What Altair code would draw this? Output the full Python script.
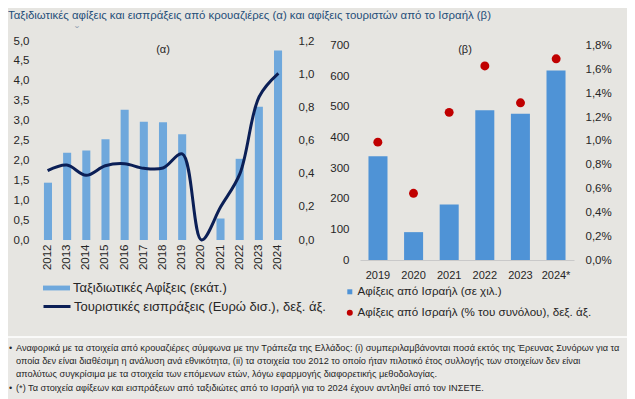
import altair as alt
import pandas as pd

# ---------------- data ----------------
years_a = ["2012", "2013", "2014", "2015", "2016", "2017", "2018",
           "2019", "2020", "2021", "2022", "2023", "2024"]
arrivals_a = [1.44, 2.19, 2.25, 2.53, 3.27, 2.97, 2.96, 2.66, 0.0, 0.54, 2.04, 3.35, 4.76]
receipts_a = [0.418, 0.452, 0.39, 0.448, 0.46, 0.432, 0.434, 0.519, 0.0, 0.20, 0.40, 0.864, 1.005]

years_b = ["2019", "2020", "2021", "2022", "2023", "2024*"]
israel_k = [339, 91, 181, 489, 478, 619]
israel_pct = [0.99, 0.56, 1.24, 1.63, 1.32, 1.69]

ticks_a_left = [0, 0.5, 1, 1.5, 2, 2.5, 3, 3.5, 4, 4.5, 5]
ticks_a_right = [0, 0.2, 0.4, 0.6, 0.8, 1.0, 1.2]
ticks_b_left = [0, 100, 200, 300, 400, 500, 600, 700]
ticks_b_right = [0, 0.2, 0.4, 0.6, 0.8, 1.0, 1.2, 1.4, 1.6, 1.8]

lbl_bar_a = "Ταξιδιωτικές Αφίξεις (εκάτ.)"
lbl_line_a = "Τουριστικές εισπράξεις (Ευρώ δισ.), δεξ. άξ."
lbl_bar_b = "Αφίξεις από Ισραήλ (σε χιλ.)"
lbl_dot_b = "Αφίξεις από Ισραήλ (% του συνόλου), δεξ. άξ."

title_text = "Ταξιδιωτικές αφίξεις και εισπράξεις από κρουαζιέρες (α) και αφίξεις τουριστών από το Ισραήλ (β)"
notes_block = [
    "Αναφορικά με τα στοιχεία από κρουαζιέρες σύμφωνα με την Τράπεζα της Ελλάδος: (i) συμπεριλαμβάνονται ποσά εκτός της Έρευνας Συνόρων για τα",
    "οποία δεν είναι διαθέσιμη η ανάλυση ανά εθνικότητα, (ii) τα στοιχεία του 2012 το οποίο ήταν πιλοτικό έτος συλλογής των στοιχείων δεν είναι",
    "απολύτως συγκρίσιμα με τα στοιχεία  των επόμενων ετών, λόγω εφαρμογής διαφορετικής μεθοδολογίας.",
]
note_last = "(*) Τα στοιχεία αφίξεων και εισπράξεων από ταξιδιώτες από το Ισραήλ για το 2024 έχουν αντληθεί από τον ΙΝΣΕΤΕ."

# ---------------- styles / layout ----------------
W, H = 619, 391
BG = "#e6e5e1"
FONT = "Liberation Sans"
TXT = "#262626"
C_BAR_A = "#6fa8dc"
C_LINE_A = "#0b1f56"
C_BAR_B = "#4f93d6"
C_DOT_B = "#c00000"

# panel (a) plot box (chart px)
AX0, AX1, AY0, AY1 = 30, 280, 232, 33
# panel (b) plot box
BX0, BX1, BY0, BY1 = 352, 566, 252, 37.7

comma1 = "replace(format(datum.value, '.1f'), '.', ',')"
comma_pct = "replace(format(datum.value, '.1f'), '.', ',') + '%'"


def yaxis(values, expr, orient, offset, pad):
    return alt.Axis(title=None, values=values, labelExpr=expr, orient=orient,
                    offset=offset, ticks=False, domain=False, grid=False,
                    labelPadding=pad, labelFont=FONT, labelFontSize=11.5,
                    labelColor=TXT)


def legend(x, y, shape, size, fs, **kw):
    return alt.Legend(title=None, orient="none", legendX=x, legendY=y,
                      symbolType=shape, symbolSize=size, padding=0, labelOffset=2,
                      labelFont=FONT, labelFontSize=fs, labelColor=TXT,
                      labelLimit=500, **kw)


df_a = pd.DataFrame({"year": years_a, "arrivals": arrivals_a, "receipts": receipts_a,
                     "s1": lbl_bar_a, "s2": lbl_line_a})
df_b = pd.DataFrame({"year": years_b, "k": israel_k, "pct": israel_pct,
                     "s3": lbl_bar_b, "s4": lbl_dot_b})

sc_xa = alt.Scale(range=[AX0, AX1], paddingInner=0.58, paddingOuter=0.31)
sc_xb = alt.Scale(range=[BX0, BX1], paddingInner=0.466, paddingOuter=0.238)

# ---------------- panel (a) ----------------
bars_a = alt.Chart(df_a).mark_bar().encode(
    x=alt.X("year:N", sort=years_a, scale=sc_xa,
            axis=alt.Axis(title=None, orient="bottom", offset=-(H - AY0), labelAngle=-90,
                          ticks=False, domain=False, labelPadding=4, labelFont=FONT,
                          labelFontSize=11.5, labelColor=TXT)),
    y=alt.Y("arrivals:Q", scale=alt.Scale(domain=[0, 5], range=[AY0, AY1]),
            axis=yaxis(ticks_a_left, comma1, "left", -AX0, 9)),
    color=alt.Color("s1:N", scale=alt.Scale(range=[C_BAR_A]),
                    legend=legend(34, 265.5, "M-1,-0.18H1V0.18H-1Z", 729, 13)),
)

line_a = alt.Chart(df_a).mark_line(interpolate="catmull-rom", strokeWidth=3).encode(
    x=alt.X("year:N", sort=years_a, scale=sc_xa, axis=None),
    y=alt.Y("receipts:Q", scale=alt.Scale(domain=[0, 1.2], range=[AY0, AY1]),
            axis=yaxis(ticks_a_right, comma1, "right", -(W - AX1), 10)),
    stroke=alt.Stroke("s2:N", scale=alt.Scale(range=[C_LINE_A]),
                      legend=legend(34, 283.5, "stroke", 729, 13, symbolStrokeWidth=3)),
)

# ---------------- panel (b) ----------------
bars_b = alt.Chart(df_b).mark_bar().encode(
    x=alt.X("year:N", sort=years_b, scale=sc_xb,
            axis=alt.Axis(title=None, orient="bottom", offset=-(H - BY0), labelAngle=0,
                          ticks=False, domain=True, domainColor="#c9c9c9",
                          labelPadding=9, labelFont=FONT, labelFontSize=11,
                          labelColor=TXT)),
    y=alt.Y("k:Q", scale=alt.Scale(domain=[0, 700], range=[BY0, BY1]),
            axis=yaxis(ticks_b_left, "format(datum.value, 'd')", "left", -BX0, 11)),
    color=alt.Color("s3:N", scale=alt.Scale(range=[C_BAR_B]),
                    legend=legend(336, 278, "square", 25, 11.6)),
)

dots_b = alt.Chart(df_b).mark_circle(size=80, opacity=1).encode(
    x=alt.X("year:N", sort=years_b, scale=sc_xb, axis=None),
    y=alt.Y("pct:Q", scale=alt.Scale(domain=[0, 1.8], range=[BY0, BY1]),
            axis=yaxis(ticks_b_right, comma_pct, "right", -(W - BX1), 11)),
    fill=alt.Fill("s4:N", scale=alt.Scale(range=[C_DOT_B]),
                  legend=legend(336, 299, "circle", 36, 11.6)),
)

# ---------------- texts ----------------
def txt(s, x, y, **kw):
    return alt.Chart(pd.DataFrame({"t": [s]})).mark_text(**kw).encode(
        text="t", x=alt.value(x), y=alt.value(y))


title_mark = txt(title_text, 0, 10.5, align="left", baseline="alphabetic", font=FONT,
                 fontSize=11.4, color="#1f4e79")
caret = txt("ˇ", 69, 24, font=FONT, fontSize=12, color="#9aa5b5")
lab_a = txt("(α)", 155, 42, font=FONT, fontSize=11, color=TXT)
lab_b = txt("(β)", 457, 42, font=FONT, fontSize=11, color=TXT)

box = alt.Chart(pd.DataFrame({"a": [0]})).mark_rect(
    fill="#e9e8e5", stroke="white", strokeWidth=1.5).encode(
    x=alt.value(-4), x2=alt.value(W + 6), y=alt.value(329), y2=alt.value(H + 6))
bul1 = txt("•", 1, 340, font=FONT, fontSize=9, color=TXT, align="left", baseline="middle")
bul2 = txt("•", 1, 380, font=FONT, fontSize=9, color=TXT, align="left", baseline="middle")
block = txt(notes_block, 8, 340, font=FONT, fontSize=9.2, color=TXT, align="left",
            baseline="middle", lineHeight=13)
last = txt(note_last, 8, 380, font=FONT, fontSize=9.2, color=TXT, align="left",
           baseline="middle")

chart = alt.layer(
    bars_a, line_a, bars_b, dots_b, title_mark, caret, lab_a, lab_b,
    box, bul1, bul2, block, last,
).resolve_scale(
    x="independent", y="independent", color="independent", stroke="independent",
    fill="independent",
).properties(
    width=W, height=H, padding=0, background=BG,
    autosize=alt.AutoSizeParams(type="none"),
).configure_view(stroke=None).configure_axis(grid=False)

chart.save("out.html", embed_options={"renderer": "svg", "actions": False})
